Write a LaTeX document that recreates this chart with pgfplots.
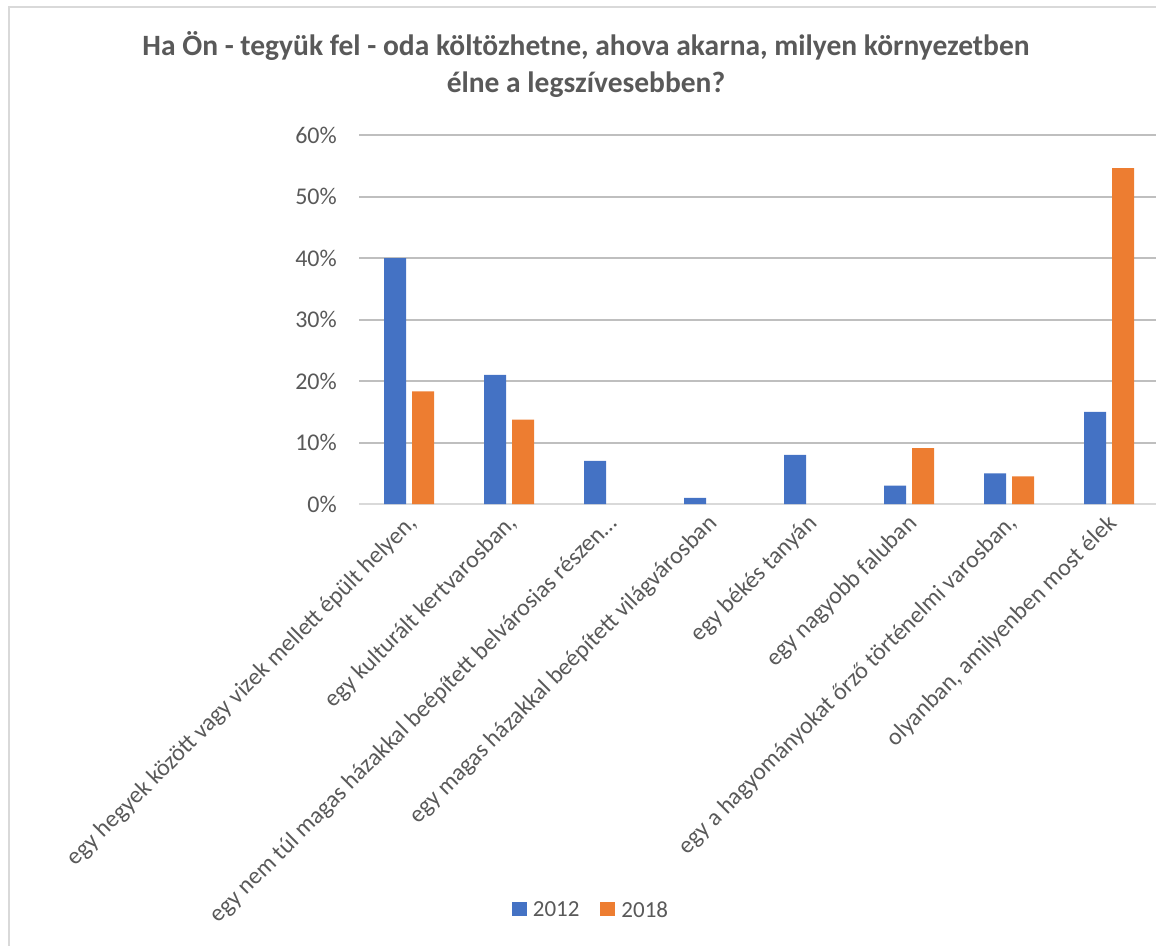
\documentclass[border=0pt]{standalone}
\usepackage{fontspec}
\setmainfont{Carlito}
\usepackage{pgfplots}
\pgfplotsset{compat=1.18}
\definecolor{blue12}{HTML}{4472C4}
\definecolor{orange18}{HTML}{ED7D31}
\definecolor{txt}{HTML}{595959}
\definecolor{grid}{HTML}{D9D9D9}
\begin{document}
\begin{tikzpicture}
% picture frame in image pixels (1 px = 1 pt), y upwards
\path[use as bounding box] (0pt,0pt) rectangle (1156pt,945pt);
\draw[grid, line width=2pt] (9pt,-5pt) -- (9pt,938pt) -- (1170pt,938pt);
\node[align=center, font=\fontsize{29.5}{37}\selectfont\bfseries, text=txt]
  at (586pt,880pt) {Ha Ön - tegyük fel - oda költözhetne, ahova akarna, milyen környezetben\\élne a legszívesebben?};
\begin{axis}[
    at={(359pt,441pt)}, anchor=south west,
    scale only axis, width=800pt, height=369pt,
    ybar=6pt, bar width=22pt,
    xmin=-0.5, xmax=7.5, ymin=0, ymax=60,
    xtick={0,...,7}, ytick={0,10,...,60},
    xticklabels={
      {egy hegyek között vagy vizek mellett épült helyen,},
      {egy kulturált kertvarosban,},
      {egy nem túl magas házakkal beépített belvárosias részen…},
      {egy magas házakkal beépített világvárosban},
      {egy békés tanyán},
      {egy nagyobb faluban},
      {egy a hagyományokat őrző történelmi varosban,},
      {olyanban, amilyenben most élek}},
    yticklabel={\pgfmathprintnumber{\tick}\%},
    /pgf/number format/assume math mode=true,
    major tick length=0pt,
    axis x line*=bottom, axis y line*=left,
    x axis line style={grid, line width=2pt, -},
    y axis line style={draw=none},
    xmajorgrids=false, ymajorgrids=true,
    grid style={grid, line width=2pt},
    tick label style={text=txt, font=\fontsize{24}{28}\selectfont},
    xticklabel style={rotate=45, anchor=north east, inner sep=2pt, xshift=-6pt, yshift=-2pt},
    yticklabel style={anchor=east, inner sep=0pt, xshift=-22pt},
    legend style={at={(0.290,-1.1)}, anchor=center, draw=none, legend columns=2,
      font=\fontsize{23}{26}\selectfont, text=txt, inner sep=0pt,
      /tikz/every even column/.append style={column sep=19pt},
      /tikz/every odd column/.append style={column sep=4pt}},
    legend image code/.code={\fill[#1] (0pt,-6pt) rectangle (15pt,8pt);},
  ]
  \addplot[fill=blue12, draw=none] coordinates {
    (0,40) (1,21) (2,7) (3,1) (4,8) (5,3) (6,5) (7,15)};
  \addplot[fill=orange18, draw=none] coordinates {
    (0,18.3) (1,13.7) (5,9.1) (6,4.5) (7,54.6)};
  \legend{2012,2018}
\end{axis}
\end{tikzpicture}
\end{document}
